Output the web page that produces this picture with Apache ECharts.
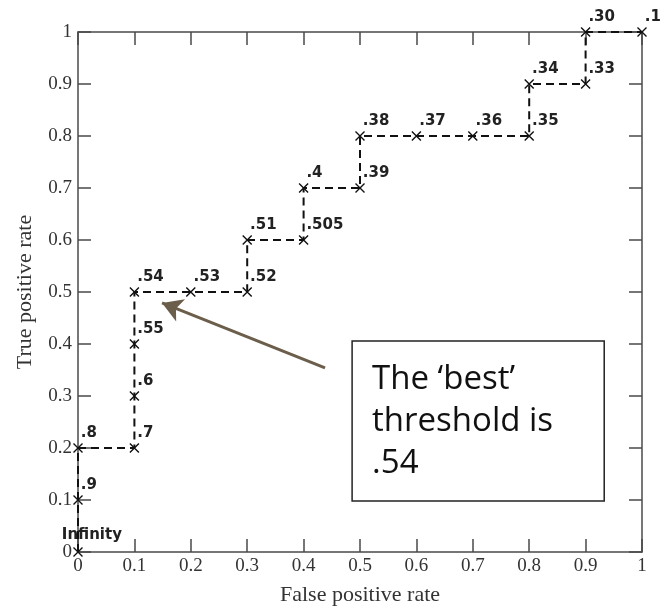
<!DOCTYPE html>
<html>
<head>
<meta charset="utf-8">
<script src="https://cdn.jsdelivr.net/npm/echarts@6/dist/echarts.min.js"></script>
<style>
  html, body { margin: 0; padding: 0; background: #ffffff; }
  #chart { width: 672px; height: 611px; }
</style>
</head>
<body>
<div id="chart"></div>
<script>
// ROC curve: each point is one decision threshold
const thresholds = ['Infinity', '.9', '.8', '.7', '.6', '.55', '.54', '.53', '.52', '.51', '.505',
                    '.4', '.39', '.38', '.37', '.36', '.35', '.34', '.33', '.30', '.1'];
const falsePositiveRate = [0, 0, 0, 0.1, 0.1, 0.1, 0.1, 0.2, 0.3, 0.3, 0.4,
                           0.4, 0.5, 0.5, 0.6, 0.7, 0.8, 0.8, 0.9, 0.9, 1];
const truePositiveRate = [0, 0.1, 0.2, 0.2, 0.3, 0.4, 0.5, 0.5, 0.5, 0.6, 0.6,
                          0.7, 0.7, 0.8, 0.8, 0.8, 0.8, 0.9, 0.9, 1, 1];

// callout: arrow from the note towards the chosen threshold
const arrowFrom = [0.438, 0.354];
const arrowTo = [0.149, 0.479];
const noteLines = ['The \u2018best\u2019', 'threshold is', '.54'];
const noteTopLeft = [0.486, 0.406];
const noteBottomRight = [0.933, 0.098];

const chart = echarts.init(document.getElementById('chart'));

const frameColor = '#4a4a4a';
const tickFont = { fontFamily: 'Liberation Serif', fontSize: 19, color: '#333' };

// all four sides of the frame carry inward ticks
function frameAxis(extra) {
  return Object.assign({
    type: 'value', min: 0, max: 1, interval: 0.1,
    splitLine: { show: false },
    axisLine: { show: true, onZero: false, lineStyle: { color: frameColor, width: 1.5 } },
    axisTick: { show: true, inside: true, length: 13, lineStyle: { color: frameColor, width: 1.5 } }
  }, extra);
}

const points = falsePositiveRate.map((x, i) => {
  const item = { value: [x, truePositiveRate[i]] };
  if (i === 0) {
    item.label = { position: [-11, -4] };
  }
  return item;
});

chart.setOption({
  backgroundColor: '#ffffff',
  animation: false,
  grid: { left: 78, right: 30, top: 32, bottom: 59 },
  xAxis: [
    frameAxis({
      position: 'bottom',
      name: 'False positive rate', nameLocation: 'middle', nameGap: 32,
      nameTextStyle: { fontFamily: 'Liberation Serif', fontSize: 22, color: '#333' },
      axisLabel: Object.assign({ margin: 5 }, tickFont)
    }),
    frameAxis({ position: 'top', axisLabel: { show: false } })
  ],
  yAxis: [
    frameAxis({
      position: 'left',
      name: 'True positive rate', nameLocation: 'middle', nameGap: 42,
      nameTextStyle: { fontFamily: 'Liberation Serif', fontSize: 22, color: '#333' },
      axisLabel: Object.assign({ margin: 6 }, tickFont)
    }),
    frameAxis({ position: 'right', axisLabel: { show: false } })
  ],
  series: [{
    type: 'line',
    xAxisIndex: 0,
    yAxisIndex: 0,
    data: points,
    clip: false,
    symbol: 'path://M0,0L10,10M10,0L0,10',
    symbolSize: 9,
    itemStyle: { color: 'transparent', borderColor: '#111', borderWidth: 1.4 },
    lineStyle: { color: '#111', width: 2, type: [8, 5] },
    label: {
      show: true,
      position: [8, -2],
      align: 'left',
      verticalAlign: 'bottom',
      fontFamily: 'DejaVu Sans',
      fontWeight: 'bold',
      fontSize: 15,
      color: '#222',
      formatter: (p) => thresholds[p.dataIndex]
    },
    markLine: {
      silent: true,
      symbol: ['none', 'arrow'],
      symbolSize: [18, 20],
      label: { show: false },
      lineStyle: { color: '#6b5e4b', width: 3, type: 'solid' },
      data: [[{ coord: arrowFrom }, { coord: arrowTo }]]
    }
  }]
});

// boxed note placed from data-space anchors
const p0 = chart.convertToPixel({ gridIndex: 0 }, noteTopLeft);
const p1 = chart.convertToPixel({ gridIndex: 0 }, noteBottomRight);
chart.setOption({
  graphic: [{
    type: 'group',
    children: [
      {
        type: 'rect',
        shape: { x: p0[0], y: p0[1], width: p1[0] - p0[0], height: p1[1] - p0[1] },
        style: { fill: '#ffffff', stroke: '#222', lineWidth: 1.5 }
      },
      {
        type: 'text',
        x: p0[0] + 20,
        y: p0[1] + 18,
        style: {
          text: noteLines.join('\n'),
          font: '33px "Open Sans"',
          lineHeight: 42,
          fill: '#111',
          align: 'left',
          verticalAlign: 'top'
        }
      }
    ]
  }]
});
</script>
</body>
</html>
